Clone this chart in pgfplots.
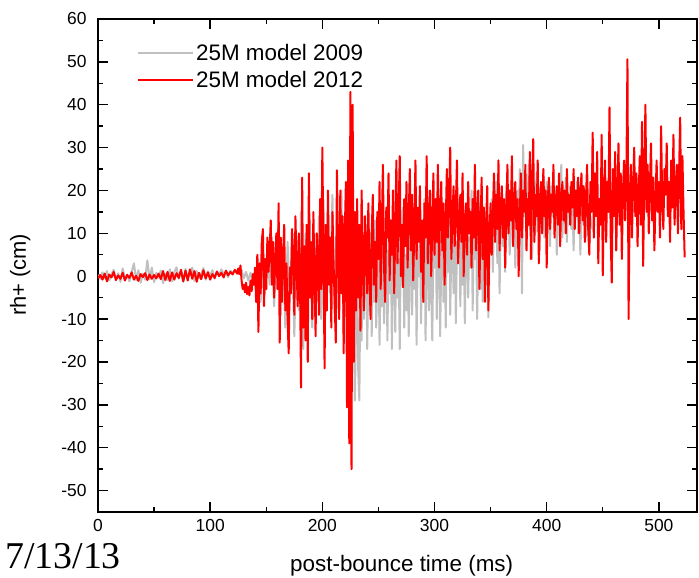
\documentclass[border=0pt]{standalone}
\usepackage{pgfplots}
\pgfplotsset{compat=1.18}
\usepackage{fontspec}
\setmainfont{Liberation Sans}
\newfontfamily\serifdate{Liberation Serif}
\usetikzlibrary{calc}
\definecolor{g09}{RGB}{192,192,192}
\definecolor{r12}{RGB}{255,0,0}
\begin{document}
\begin{tikzpicture}
\begin{axis}[
  scale only axis,
  width=599bp, height=493bp,
  xmin=0, xmax=534, ymin=-55, ymax=60,
  xtick={0,100,...,500}, minor x tick num=1,
  ytick={-50,-40,...,60}, minor y tick num=1,
  tick align=inside,
  major tick length=10bp, minor tick length=5bp,
  axis line style={line width=1.6bp},
  every tick/.style={line width=1.4bp, black},
  tick label style={font=\fontsize{17.5}{20}\selectfont},
  /pgf/number format/assume math mode=true,
  xticklabel style={yshift=-4bp},
  yticklabel style={xshift=-8bp},
  xlabel={post-bounce time (ms)},
  ylabel={rh+ (cm)},
  xlabel style={at={(axis description cs:0.507,-0.1095)}, anchor=center, font=\fontsize{22.5}{26}\selectfont},
  ylabel style={at={(axis description cs:-0.130,0.481)}, anchor=center, font=\fontsize{22}{26}\selectfont},
  legend style={at={(axis description cs:0.065,0.953)}, anchor=north west, draw=none, fill=none,
    font=\fontsize{22.5}{26}\selectfont, row sep=5bp, inner sep=0pt},
  legend cell align=left,
  legend image code/.code={\draw[#1] (0bp,0bp) -- (51bp,0bp); \path (0bp,0bp) -- (55bp,0bp);},
]
\addplot[g09, line width=2bp, line join=round] coordinates {
(0,0.3)(2,-0.6)(4,0.9)(6,-0.4)(8,1.2)(10,-1.0)(12,0.5)(14,1.5)(16,-0.8)(18,0.7)(20,-1.3)(22,1.8)(24,-0.5)(26,0.4)(28,-1.2)(30,1.0)(32,3.0)(34,-0.9)(36,1.4)(38,-1.5)(40,0.6)(42,-0.8)(44,3.7)(46,-0.7)(48,2.0)(50,-1.4)(52,0.8)(54,-0.3)(56,1.3)(58,-1.6)(60,0.5)(62,-0.9)(64,1.6)(66,-1.2)(68,0.9)(70,2.1)(72,-0.6)(74,1.0)(76,-1.3)(78,1.7)(80,-0.4)(82,0.8)(84,2.0)(86,-1.1)(88,1.2)(90,-0.5)(92,0.6)(94,1.9)(96,-0.8)(98,1.1)(100,0.2)(102,1.4)(104,-0.6)(106,1.0)(108,0.3)(110,1.6)(112,0.5)(114,1.1)(116,-0.2)(118,1.3)(120,0.7)(122,1.4)(124,0.9)
(126,0.5)(128,1.5)(130,-0.5)(132,1.0)(134,-1.0)(136,0.8)(138,-1.5)(140,1.0)
(141,-3)(143,4)(145,-6)(147,7)(149,-4)(151,6)(153,-2)(155,9)(157,-7)(159,5)(161,12)(163,-9)(165,3)(167,-12)(169,8)(171,-6)(173,10)(175,-14)(177,6)(179,-8)(181,15)(183,-17)(185,10)(187,-5)(189,13)(191,-12)(193,7)(195,-3)(197,14)(199,-10)(201,18)(203,-8)(205,17)(207,-4)(209,19)(211,-11)(213,15)(215,-6)(217,20)(219,-15)(221,12)(223,20)(225,-22)(227,10)(229,-29)
(231,6)(232,-22)(233,-29)(234,4)(235,-15)(236,9)(237,-10)(238,-3)(239,12)(240,-17)(241,2)(242,-8)(243,10)(244,-14)(245,5)(246,-6)(247,13)(248,-12)(249,0)(250,8)
(251,-16)(252,3)(253,-7)(254,15)(255,-11)(256,1)(257,9)(258,-15)(259,6)(260,-4)(261,12)(262,-17)(263,2)(264,8)(265,-13)(266,14)(267,-5)(268,4)(269,-17)(270,10)
(271,-2)(272,16)(273,-12)(274,5)(275,-8)(276,11)(277,-14)(278,3)(279,13)(280,-9)(281,7)(282,-3)(283,15)(284,-16)(285,6)(286,0)(287,12)(288,-11)(289,9)(290,-6)
(291,18)(292,-15)(293,4)(294,10)(295,-8)(296,14)(297,-3)(298,-15)(299,8)(300,2)(301,16)(302,-10)(303,6)(304,12)(305,-14)(306,3)(307,17)(308,-6)(309,9)(310,-12)
(311,14)(312,1)(313,19)(314,-9)(315,7)(316,11)(317,-4)(318,15)(319,-11)(320,8)(321,3)(322,18)(323,-7)(324,10)(325,-2)(326,13)(327,-11)(328,6)(329,16)(330,-5)
(331,9)(332,2)(333,20)(334,-8)(335,11)(336,4)(337,14)(338,-10)(339,7)(340,17)(341,-3)(342,12)(343,-6)(344,9)(345,15)(346,-2)(347,11)(348,-9.6)(349,13)(350,6)
(351,18)(352,1)(353,14)(354,9)(355,22)(356,3)(357,16)(358,-4)(359,12)(360,19)(361,7)(362,15)(363,1)(364,21)(365,10)(366,17)(367,5)(368,13)(369,24)(370,8)
(371,18)(372,2)(373,15)(374,20)(375,9)(376,25)(377,12)(378,-4)(379,30.6)(380,14)(381,21)(382,7)(383,17)(384,26)(385,11)(386,19)(387,4)(388,16)(389,22)(390,10)
(391,24)(392,13)(393,18)(394,6)(395,20)(396,15)(397,25)(398,9)(399,17)(400,22)(401,12)(402,19)(403,7)(404,21)(405,14)(406,24)(407,11)(408,18)(409,5)(410,16)
(411,22)(412,13)(413,26)(414,9)(415,18)(416,14)(417,23)(418,8)(419,19)(420,15)(421,21)(422,11)(423,17)(424,6)(425,19)(426,14)(427,22)(428,10)(429,17)(430,5)
(431,15)(432,20)(433,12)(434,18)(435,9)(436,16)(437,13)(438,7)(439,14)(440,11)
};
\addlegendentry{25M model 2009}
\addplot[r12, line width=2bp, line join=round] coordinates {
(0,-0.5)(2,0.3)(4,-0.8)(6,0.6)(8,-1.2)(10,0.4)(12,-0.3)(14,1.0)(16,-0.9)(18,0.2)(20,-0.6)(22,0.8)(24,-1.0)(26,0.3)(28,-0.4)(30,0.9)(32,-0.8)(34,0.1)(36,-1.1)(38,0.5)(40,-0.2)(42,0.7)(44,-0.9)(46,0.4)(48,-0.6)(50,0.3)(52,-0.5)(54,0.6)(56,-0.7)(58,1.2)(60,-0.9)(62,1.0)(64,-1.1)(66,0.9)(68,-0.8)(70,0.7)(72,-0.4)(74,1.5)(76,-1.2)(78,1.3)(80,-1.0)(82,1.6)(84,-0.6)(86,1.2)(88,-1.3)(90,0.8)(92,-0.7)(94,1.4)(96,-0.5)(98,0.9)(100,-0.8)(102,0.5)(104,-0.4)(106,1.1)(108,0.0)(110,0.8)(112,-0.3)(114,1.3)(116,0.2)(118,1.0)(120,0.4)(122,1.5)(124,0.6)
(125,1.8)(126,0.5)(127,2.5)(128,-1.0)(129,-3.0)(130,-2.0)(131,-3.8)(132,-1.5)(133,-4.2)(134,-2.5)(135,-4.5)(136,-1.0)(137,-3.5)(138,0.5)(139,-2.0)(140,2.0)
(141,-6)(142,5)(143,-13)(144,3)(145,-4)(146,8)(147,11)(148,-7)(149,4)(150,-3)(151,9)(152,1)(153,6)(154,13)(155,-2)(156,8)(157,-5)(158,4)(159,10)(160,-3)
(161,17)(162,-15.5)(163,9)(164,-6)(165,5)(166,12)(167,-8)(168,3)(169,-10)(170,-18)(171,2)(172,-4)(173,11)(174,5)(175,-9)(176,14)(177,3)(178,-7)(179,10)(180,2)
(181,-26)(182,23)(183,-12)(184,7)(185,-15)(186,12)(187,-20)(188,24)(189,-5)(190,8)(191,-10)(192,15)(193,0)(194,-14)(195,10)(196,4)(197,-9)(198,18)(199,-3)(200,30)
(201,5)(202,-21.5)(203,12)(204,-8)(205,20)(206,-2)(207,9)(208,-12)(209,15)(210,3)(211,-6)(212,-15.5)(213,24.7)(214,6)(215,-10)(216,20)(217,-4)(218,14)(219,-18)(220,10)
(221,22)(222,-30.6)(223,27)(224,-39)(225,43)(226,-45)(227,40)(228,-20)(229,15)(230,-8)
(231,18)(232,-5)(233,12)(234,-12.7)(235,20)(236,3)(237,-8)(238,14)(239,6)(240,-4)(241,17)(242,1)(243,-10)(244,10)(245,19)(246,-2)(247,8)(248,-6)(249,15)(250,4)
(251,22)(252,-3)(253,11)(254,26)(255,2)(256,-6)(257,16)(258,9)(259,24)(260,-1)(261,13)(262,5)(263,20)(264,-4)(265,10)(266,27)(267,3)(268,15)(269,28)(270,0)
(271,12)(272,-2.6)(273,18)(274,7)(275,22)(276,2)(277,14)(278,25)(279,6)(280,19)(281,-1)(282,11)(283,27)(284,4)(285,16)(286,8)(287,21)(288,1)(289,13)(290,-6)
(291,17)(292,9)(293,28)(294,3)(295,14)(296,20)(297,0)(298,11)(299,24)(300,5)
(301,18)(302,8)(303,26)(304,2)(305,15)(306,22)(307,6)(308,17)(309,-2)(310,12)(311,25)(312,9)(313,19)(314,30)(315,4)(316,14)(317,21)(318,7)(319,16)(320,27)
(321,3)(322,12)(323,19)(324,8)(325,24)(326,0)(327,13)(328,17)(329,5)(330,22)(331,10)(332,15)(333,2)(334,18)(335,9)(336,26)(337,6)(338,14)(339,20)(340,-3)
(341,11)(342,23)(343,4)(344,16)(345,-6)(346,12)(347,21)(348,-8)(349,9)(350,17)
(351,5)(352,14)(353,24)(354,8)(355,19)(356,11)(357,27)(358,6)(359,16)(360,21)(361,9)(362,18)(363,2)(364,15)(365,26)(366,10)(367,20)(368,13)(369,28)(370,7)
(371,17)(372,22)(373,11)(374,18)(375,0)(376,14)(377,24)(378,9)(379,20)(380,15)(381,26)(382,6)(383,18)(384,12)(385,29)(386,4)(387,21)(388,32)(389,8)(390,19)
(391,14)(392,27)(393,3)(394,17)(395,22)(396,10)(397,25)(398,14)(399,20)(400,2)(401,18)(402,23)(403,11)(404,19)(405,15)(406,26)(407,9)(408,17)(409,21)(410,12)
(411,24)(412,7)(413,18)(414,22)(415,13)(416,20)(417,10)(418,25)(419,15)(420,19)
(421,12)(422,22)(423,16)(424,25)(425,11)(426,20)(427,14)(428,23)(429,10)(430,19)(431,24)(432,13)(433,21)(434,8)(435,18)(436,26)(437,11)(438,5)(439,22)(440,15)
(441,33.5)(442,9)(443,24)(444,14)(445,29)(446,3)(447,18)(448,12)(449,33)(450,0.2)(451,20)(452,27)(453,8)(454,22)(455,15)(456,39.4)(457,10)(458,-1.5)(459,25)(460,14)
(461,29)(462,6)(463,19)(464,31)(465,12)(466,24)(467,4)(468,20)(469,27)(470,13)(471,22)(472,50.6)(473,-10)(474,18)(475,26)(476,9)(477,21)(478,30)(479,14)(480,24)
(481,7)(482,19)(483,28)(484,12)(485,36)(486,2.4)(487,23)(488,40)(489,15)(490,26)(491,10)(492,21)(493,31)(494,13)(495,23)(496,6)(497,18)(498,27)(499,15)(500,22)
(501,9)(502,35)(503,17)(504,11)(505,25)(506,19)(507,31)(508,14)(509,22)(510,8)(511,27)(512,16)(513,33)(514,12)(515,21)(516,26)(517,10)(518,24)(519,37)(520,11)
(521,28)(522,15)(523,4.4)
};
\addlegendentry{25M model 2012}
\end{axis}
\node[anchor=base west, inner sep=0pt, font=\serifdate\fontsize{38}{40}\selectfont] at ($(current axis.south west)+(-93bp,-57bp)$) {7/13/13};
\pgfresetboundingbox
\path ($(current axis.south west)+(-98bp,-66bp)$) rectangle ($(current axis.north east)+(2bp,19bp)$);
\end{tikzpicture}
\end{document}
